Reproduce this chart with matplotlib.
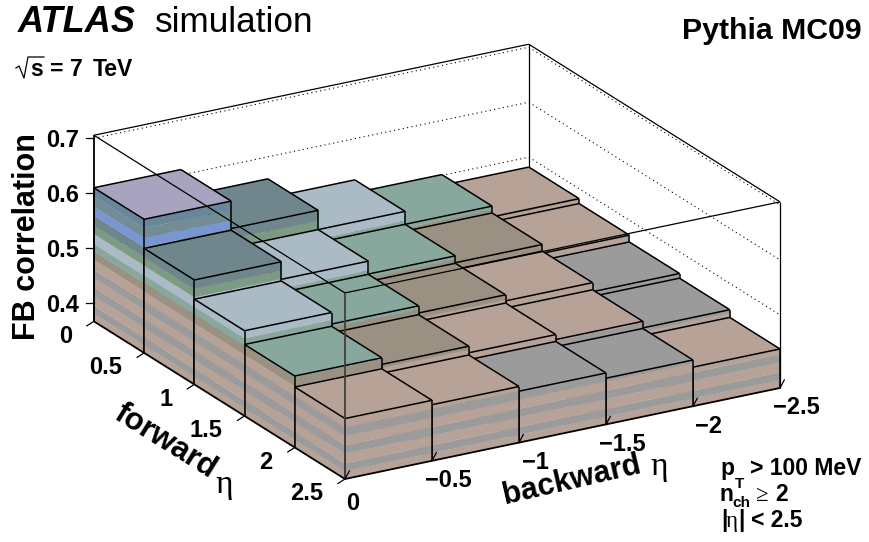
import numpy as np
import matplotlib
matplotlib.use("Agg")
import matplotlib.pyplot as plt
from matplotlib.lines import Line2D
from matplotlib.transforms import IdentityTransform
from mpl_toolkits.mplot3d import proj3d
from mpl_toolkits.mplot3d.art3d import Poly3DCollection, Line3DCollection

plt.rcParams['font.family'] = ['Liberation Sans', 'DejaVu Sans']

W, H = 870, 542

backward_edges = [0, -0.5, -1, -1.5, -2, -2.5]
forward_edges = [0, 0.5, 1, 1.5, 2, 2.5]
z_min, z_max = 0.367, 0.7055
z_ticks = [0.4, 0.5, 0.6, 0.7]

# rows: forward eta bin, columns: backward eta bin
fb_corr = [
    [0.610, 0.560, 0.525, 0.5015, 0.482],
    [0.557, 0.525, 0.5015, 0.489, 0.473],
    [0.522, 0.501, 0.488, 0.477, 0.4605],
    [0.497, 0.485, 0.473, 0.464, 0.452],
    [0.477, 0.469, 0.4605, 0.451, 0.438],
]

# colour of the top face of each bar
top_names = [
    ['purple', 'slate', 'light', 'teal', 'pink'],
    ['slate', 'light', 'teal', 'brown', 'pink'],
    ['light', 'teal', 'brown', 'pink', 'gray'],
    ['teal', 'brown', 'pink', 'pink', 'gray'],
    ['pink', 'pink', 'gray', 'gray', 'pink'],
]

band_edges = [0.367, 0.3810, 0.3955, 0.4130, 0.4285, 0.4455, 0.4610, 0.4790,
              0.4950, 0.5080, 0.5260, 0.5410, 0.5595, 0.5758, 0.5940, 0.72]
band_names = ['pink', 'gray', 'pink', 'gray', 'pink', 'gray', 'pink', 'brown', 'teal',
              'light', 'green', 'slate', 'blue', 'slate2', 'slate3']

colors = {
    'pink': '#b7a298', 'gray': '#9b9b9b', 'brown': '#9b9182', 'teal': '#88a89e',
    'light': '#aabbc6', 'green': '#7d9b82', 'slate': '#6f878c', 'blue': '#7a96d2',
    'slate2': '#738c96', 'slate3': '#69879b', 'purple': '#a8a3be',
}

fig = plt.figure(figsize=(W / 100, H / 100), dpi=100)
ax = fig.add_axes([0.0, -0.3, 800 / W, 800 / H], projection='3d', computed_zorder=False)
ax.set_proj_type('ortho')
ax.view_init(elev=21.25, azim=-120)
ax.set_axis_off()
ax.patch.set_visible(False)
ax.set_xlim(0, -2.5)
ax.set_ylim(2.5, 0)
ax.set_zlim(z_min, z_max)
zoom = 1.0
ax.set_box_aspect((1, 1, 0.3975), zoom=zoom)


def screen(x, y, z):
    xs, ys, _ = proj3d.proj_transform(x, y, z, ax.get_proj())
    return ax.transData.transform((xs, ys))


# line the frame up with the reference: front corner at pixel (345, 479), 435 px wide
fig.canvas.draw()
wide = screen(-2.5, 2.5, z_min)[0] - screen(0, 2.5, z_min)[0]
ax.set_box_aspect((1, 1, 0.3975), zoom=zoom * 435 / wide)
fig.canvas.draw()
front = screen(0, 2.5, z_min)
pos = ax.get_position(original=True)
ax.set_position([pos.x0 + (345 - front[0]) / W, pos.y0 + (H - 479 - front[1]) / H,
                 pos.width, pos.height])
fig.canvas.draw()

z_order = 1


def add_lines(segments, lw, color='black', ls='-', alpha=None):
    global z_order
    lc = Line3DCollection(segments, colors=color, linewidths=lw, linestyles=ls, alpha=alpha,
                          zorder=z_order)
    ax.add_collection3d(lc, autolim=False)
    z_order += 1


# back walls
for z in z_ticks:
    add_lines([[(0, 0, z), (-2.5, 0, z)], [(-2.5, 0, z), (-2.5, 2.5, z)]], 0.8, ls=(0, (1, 3)))
add_lines([[(-2.5, 0, z_min), (-2.5, 0, z_max)]], 0.9)
add_lines([[(0, 0, z_max), (-2.5, 0, z_max)], [(-2.5, 0, z_max), (-2.5, 2.5, z_max)]], 0.9)

# bars, painted from the back corner to the front corner
for ib in range(4, -1, -1):
    for jf in range(5):
        h = fb_corr[jf][ib]
        x0, x1 = backward_edges[ib], backward_edges[ib + 1]
        y0, y1 = forward_edges[jf], forward_edges[jf + 1]
        polys, fc = [], []
        for k, name in enumerate(band_names):
            lo, hi = band_edges[k], min(band_edges[k + 1], h)
            if lo >= h:
                break
            polys.append([(x0, y0, lo), (x0, y1, lo), (x0, y1, hi), (x0, y0, hi)])
            fc.append(colors[name])
            polys.append([(x0, y1, lo), (x1, y1, lo), (x1, y1, hi), (x0, y1, hi)])
            fc.append(colors[name])
        polys.append([(x0, y0, h), (x1, y0, h), (x1, y1, h), (x0, y1, h)])
        fc.append(colors[top_names[jf][ib]])
        pc = Poly3DCollection(polys, facecolors=fc, edgecolors=fc, linewidths=0.15,
                              zorder=z_order)
        ax.add_collection3d(pc, autolim=False)
        z_order += 1
        add_lines([
            [(x0, y0, h), (x1, y0, h)], [(x1, y0, h), (x1, y1, h)],
            [(x1, y1, h), (x0, y1, h)], [(x0, y1, h), (x0, y0, h)],
            [(x0, y0, h), (x0, y0, z_min)], [(x0, y1, h), (x0, y1, z_min)],
            [(x1, y1, h), (x1, y1, z_min)],
        ], 1.1)

# front frame over the bars
add_lines([[(0, 0, z_max), (0, 2.5, z_max)], [(0, 2.5, z_max), (-2.5, 2.5, z_max)],
           [(-2.5, 2.5, z_max), (-2.5, 2.5, z_min)]], 0.9)
add_lines([[(0, 2.5, z_max), (0, 2.5, z_min)]], 1.3, color='#404040')
add_lines([[(0, 0, z_min), (0, 0, z_max)], [(0, 0, z_min), (0, 2.5, z_min)],
           [(0, 2.5, z_min), (-2.5, 2.5, z_min)]], 1.3)


def tick(p, dx, dy):
    fig.add_artist(Line2D([p[0], p[0] + dx], [p[1], p[1] - dy], color='black', lw=0.9,
                          transform=IdentityTransform()))


def label(x, y, s, size=17, weight='bold', **kw):
    kw.setdefault('ha', 'center')
    kw.setdefault('va', 'center')
    fig.text(x / W, 1 - y / H, s, fontsize=size, fontweight=weight, **kw)


def base(x, y, s, size=16.5, weight='bold', **kw):
    label(x, y, s, size=size, weight=weight, ha='left', va='baseline', **kw)


for z in z_ticks:
    p = screen(0, 0, z)
    tick(p, -8, 0)
    label(p[0] - 15, H - p[1] + 2, f'{z:.1f}', ha='right')

for f, s in zip(forward_edges, ['0', '0.5', '1', '1.5', '2', '2.5']):
    p = screen(0, f, z_min)
    tick(p, -7, 4.5)
    label(p[0] - 22, H - p[1] + 15, s, ha='right')

for b, s in zip(backward_edges, ['0', '\u22120.5', '\u22121', '\u22121.5', '\u22122', '\u22122.5']):
    p = screen(b, 2.5, z_min)
    tick(p, 4.3, -8)
    if s == '0':
        label(p[0] + 8, H - p[1] + 24, s)
    else:
        label(p[0] + 16, H - p[1] + 20, s)

label(27, 237, 'FB correlation', size=22, rotation=90)
label(165, 442, 'forward', size=22.5, rotation=-32, rotation_mode='anchor')
label(224, 485, '\u03b7', size=24, weight='normal', family='Liberation Serif')
label(572, 480, 'backward', size=22, rotation=13, rotation_mode='anchor')
label(659, 467, '\u03b7', size=24, weight='normal', family='Liberation Serif')

base(18, 32, 'ATLAS', size=26, style='italic')
base(155, 32, 'simulation', size=25.3, weight='normal')
label(682, 31, 'Pythia MC09', size=21.8, ha='left')

# square root sign of the energy label
fig.add_artist(Line2D([16, 19, 24, 28, 44], [H - 68, H - 66, H - 78, H - 57, H - 57],
                      color='black', lw=0.9, transform=IdentityTransform()))
base(30, 76, 's')
base(50, 76, '=')
base(70, 76, '7')
base(93, 76, 'TeV')

base(720, 475, 'p')
base(735, 488, 'T', size=11)
base(750, 475, '> 100 MeV')
base(720, 501, 'n')
base(732, 507, 'ch', size=11)
base(755, 501, '\u2265', weight='normal', family='Liberation Serif')
base(775, 501, '2')
base(721, 527, '|')
base(726, 527, '\u03b7', weight='normal', family='Liberation Serif')
base(738, 527, '|')
base(751, 527, '< 2.5')

fig.savefig('out.png', dpi=100)
